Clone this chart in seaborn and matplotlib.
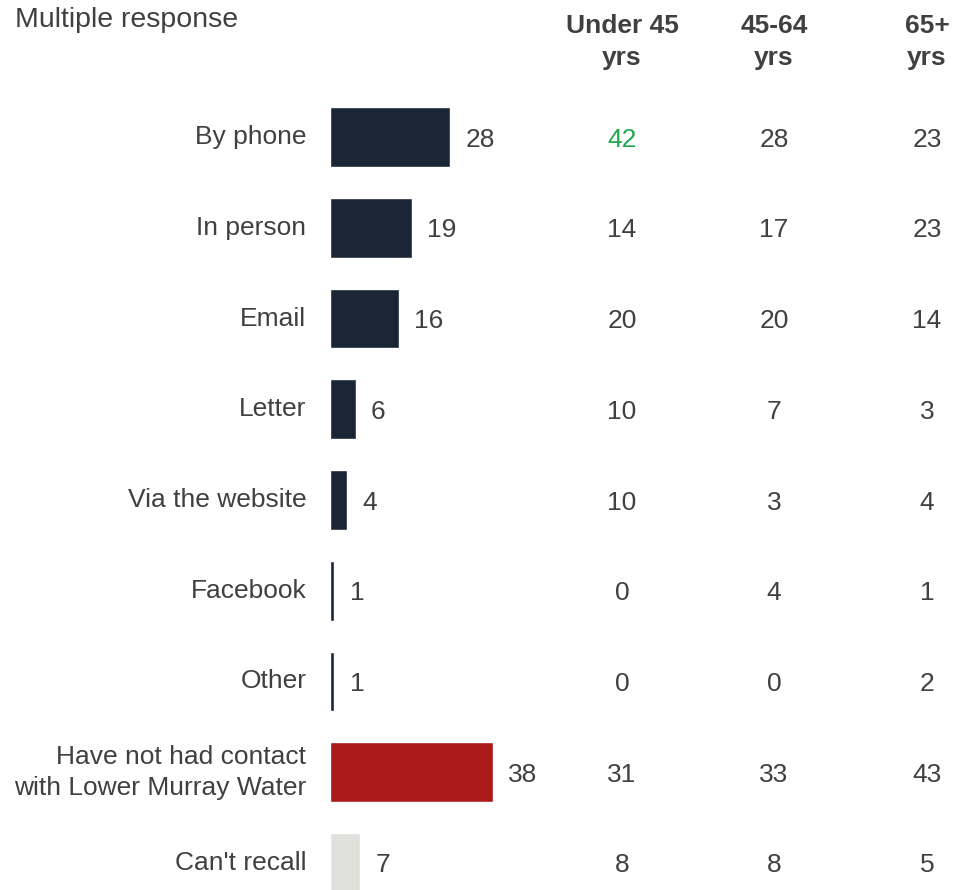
import matplotlib
matplotlib.use("Agg")
import matplotlib.pyplot as plt
import matplotlib.transforms as mtransforms
import seaborn as sns
import pandas as pd

categories = [
    "By phone",
    "In person",
    "Email",
    "Letter",
    "Via the website",
    "Facebook",
    "Other",
    "Have not had contact\nwith Lower Murray Water",
    "Can't recall",
]
totals = [28, 19, 16, 6, 4, 1, 1, 38, 7]
under_45 = [42, 14, 20, 10, 10, 0, 0, 31, 8]
age_45_64 = [28, 17, 20, 7, 3, 4, 0, 33, 8]
age_65_plus = [23, 23, 14, 3, 4, 1, 2, 43, 5]
column_headers = ["Under 45\nyrs", "45-64\nyrs", "65+\nyrs"]
highlight = {(0, 0)}  # (column, row) of significantly higher results

bar_colors = ["#1a2535"] * 7 + ["#ab1a1a", "#e0e0dc"]
text_color = "#404040"
green = "#1faa4f"

sns.set_theme(style="white")
plt.rcParams["font.family"] = ["Liberation Sans", "DejaVu Sans"]

W, H = 954, 890
fig = plt.figure(figsize=(W / 100, H / 100), dpi=100)
left_px = 330
ax = fig.add_axes([left_px / W, 0, 1 - left_px / W, 1])

df = pd.DataFrame({"category": categories, "total": totals})
sns.barplot(data=df, x="total", y="category", hue="category",
            palette=bar_colors, legend=False, width=0.66,
            saturation=1, ax=ax, order=categories, hue_order=categories)

px_per_unit = 4.29
ax.set_xlim(0, (W - left_px) / px_per_unit)
row_px = 90.75
ax.set_ylim(8 + (H - 863) / row_px, -137 / row_px)

for cont in ax.containers:
    for t in ax.bar_label(cont, labels=[f"{v:g}" for v in cont.datavalues],
                          padding=11, fontsize=19, color=text_color):
        t.set_va("center_baseline")

ax.set_xlabel("")
ax.set_ylabel("")
ax.set_xticks([])
ax.tick_params(axis="y", length=0, pad=17, labelsize=19, labelcolor=text_color)
for lab in ax.get_yticklabels():
    lab.set_va("center")
    lab.set_linespacing(1.35)
for s in ax.spines.values():
    s.set_visible(False)

# Age group columns
col_x_px = [622, 774, 927]
trans = mtransforms.blended_transform_factory(fig.transFigure, ax.transData)
for ci, (xp, vals) in enumerate(zip(col_x_px, [under_45, age_45_64, age_65_plus])):
    for ri, v in enumerate(vals):
        c = green if (ci, ri) in highlight else text_color
        ax.text(xp / W, ri, f"{v}", transform=trans, ha="center",
                va="center_baseline", fontsize=19, color=c)
    fig.text(xp / W, 1 - 42 / H, column_headers[ci], ha="center", va="center",
             fontsize=19, fontweight="bold", color=text_color, linespacing=1.45)

fig.text(15 / W, 1 - 20 / H, "Multiple response", ha="left", va="center",
         fontsize=20.5, color=text_color)

fig.savefig("out.png", dpi=100)
